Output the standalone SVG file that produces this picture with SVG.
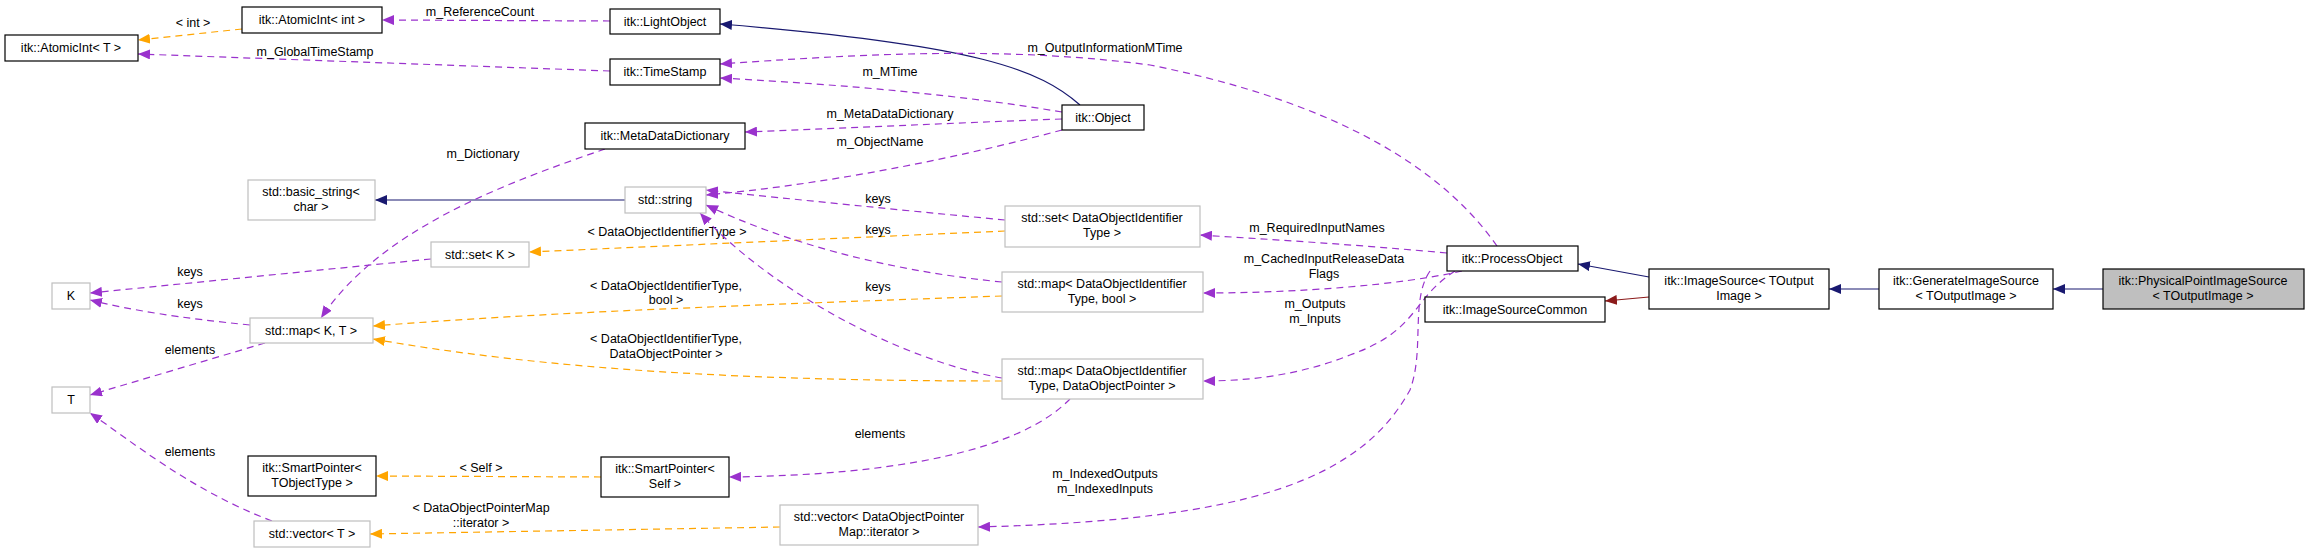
<svg xmlns="http://www.w3.org/2000/svg" width="2309" height="553" viewBox="0 0 2309 553">
<style>
text{font-family:"Liberation Sans",Arial,sans-serif;font-size:12.5px;fill:#000;text-anchor:middle}
.n rect{fill:#fff;stroke:#000;stroke-width:1.2}
.g rect{fill:#fff;stroke:#bfbfbf;stroke-width:1.2}
.p{fill:none;stroke:#9a32cd;stroke-dasharray:7,5;stroke-width:1.2;marker-end:url(#mp)}
.o{fill:none;stroke:#ffa500;stroke-dasharray:7,5;stroke-width:1.2;marker-end:url(#mo)}
.b{fill:none;stroke:#191970;stroke-width:1.2;marker-end:url(#mb)}
.r{fill:none;stroke:#8b1a1a;stroke-width:1.2;marker-end:url(#mr)}
</style>
<defs>
<marker id="mp" markerUnits="userSpaceOnUse" markerWidth="12" markerHeight="10" refX="12" refY="5" orient="auto"><path d="M0,0L12,5L0,10z" fill="#9a32cd"/></marker>
<marker id="mo" markerUnits="userSpaceOnUse" markerWidth="12" markerHeight="10" refX="12" refY="5" orient="auto"><path d="M0,0L12,5L0,10z" fill="#ffa500"/></marker>
<marker id="mb" markerUnits="userSpaceOnUse" markerWidth="12" markerHeight="10" refX="12" refY="5" orient="auto"><path d="M0,0L12,5L0,10z" fill="#191970"/></marker>
<marker id="mr" markerUnits="userSpaceOnUse" markerWidth="12" markerHeight="10" refX="12" refY="5" orient="auto"><path d="M0,0L12,5L0,10z" fill="#8b1a1a"/></marker>
</defs>
<rect width="2309" height="553" fill="#fff"/>
<g id="edges">
<path class="o" d="M242,29L138,40"/><text x="193" y="27">&lt; int &gt;</text>
<path class="p" d="M610,21L382,20"/><text x="480" y="16">m_ReferenceCount</text>
<path class="p" d="M610,71L138,54"/><text x="315" y="56">m_GlobalTimeStamp</text>
<path class="b" d="M1080,105C1040,70 980,45 720,24"/>
<path class="p" d="M1062,112C960,95 850,85 720,78"/><text x="890" y="76">m_MTime</text>
<path class="p" d="M1497,246C1430,150 1300,95 1150,65C1000,45 850,55 720,64"/><text x="1105" y="52">m_OutputInformationMTime</text>
<path class="p" d="M1062,119C950,123 850,128 745,132"/><text x="890" y="118">m_MetaDataDictionary</text>
<path class="p" d="M1062,130C950,160 820,185 706,195"/><text x="880" y="146">m_ObjectName</text>
<path class="b" d="M625,200L375,200"/>
<path class="p" d="M605,149C500,185 380,230 321,318"/><text x="483" y="158">m_Dictionary</text>
<path class="p" d="M431,259L90,293"/><text x="190" y="276">keys</text>
<path class="p" d="M250,325C180,318 130,310 90,300"/><text x="190" y="308">keys</text>
<path class="p" d="M265,343L90,395"/><text x="190" y="354">elements</text>
<path class="p" d="M272,521C190,490 130,440 90,413"/><text x="190" y="456">elements</text>
<path class="o" d="M1005,231L529,252"/><text x="667" y="236">&lt; DataObjectIdentifierType &gt;</text>
<path class="p" d="M1005,220C900,210 800,200 706,190"/><text x="878" y="203">keys</text>
<path class="p" d="M1002,282C880,270 780,240 706,205"/><text x="878" y="234">keys</text>
<path class="p" d="M1002,378C900,360 770,290 700,213"/><text x="878" y="291">keys</text>
<path class="o" d="M1002,296C750,305 550,312 373,326"/><text x="666" y="290">&lt; DataObjectIdentifierType,</text><text x="666" y="304">bool &gt;</text>
<path class="o" d="M1002,381C750,381 550,370 373,339"/><text x="666" y="343">&lt; DataObjectIdentifierType,</text><text x="666" y="358">DataObjectPointer &gt;</text>
<path class="p" d="M1447,253C1360,245 1280,240 1200,235"/><text x="1317" y="232">m_RequiredInputNames</text>
<path class="p" d="M1462,271C1400,285 1300,293 1203,293"/><text x="1324" y="263">m_CachedInputReleaseData</text><text x="1324" y="278">Flags</text>
<path class="p" d="M1455,271C1410,300 1420,330 1350,355C1300,375 1250,381 1203,381"/><text x="1315" y="308">m_Outputs</text><text x="1315" y="323">m_Inputs</text>
<path class="p" d="M1430,271C1410,300 1425,350 1410,390C1360,480 1250,520 978,527"/><text x="1105" y="478">m_IndexedOutputs</text><text x="1105" y="493">m_IndexedInputs</text>
<path class="p" d="M1070,399C1020,450 900,475 729,477"/><text x="880" y="438">elements</text>
<path class="o" d="M601,477L376,476"/><text x="481" y="472">&lt; Self &gt;</text>
<path class="o" d="M780,527L370,534"/><text x="481" y="512">&lt; DataObjectPointerMap</text><text x="481" y="527">::iterator &gt;</text>
<path class="b" d="M1649,277L1578,264"/>
<path class="r" d="M1649,297L1605,301"/>
<path class="b" d="M1879,289L1829,289"/>
<path class="b" d="M2103,289L2053,289"/>
</g>
<g id="n1" class="n"><rect x="5" y="35" width="133" height="26"/><text x="71" y="52">itk::AtomicInt&lt; T &gt;</text></g>
<g id="n2" class="n"><rect x="242" y="7" width="140" height="26"/><text x="312" y="24">itk::AtomicInt&lt; int &gt;</text></g>
<g id="n3" class="n"><rect x="610" y="9" width="110" height="25"/><text x="665" y="26">itk::LightObject</text></g>
<g id="n4" class="n"><rect x="610" y="59" width="110" height="26"/><text x="665" y="76">itk::TimeStamp</text></g>
<g id="n5" class="n"><rect x="585" y="123" width="160" height="26"/><text x="665" y="140">itk::MetaDataDictionary</text></g>
<g id="n6" class="g"><rect x="248" y="180" width="127" height="40"/><text x="311" y="196">std::basic_string&lt;</text><text x="311" y="211">char &gt;</text></g>
<g id="n7" class="g"><rect x="625" y="187" width="81" height="26"/><text x="665" y="204">std::string</text></g>
<g id="n8" class="g"><rect x="431" y="242" width="98" height="25"/><text x="480" y="259">std::set&lt; K &gt;</text></g>
<g id="n9" class="g"><rect x="52" y="283" width="38" height="26"/><text x="71" y="300">K</text></g>
<g id="n10" class="g"><rect x="250" y="318" width="123" height="25"/><text x="311" y="335">std::map&lt; K, T &gt;</text></g>
<g id="n11" class="g"><rect x="52" y="387" width="38" height="26"/><text x="71" y="404">T</text></g>
<g id="n12" class="n"><rect x="248" y="456" width="128" height="40"/><text x="312" y="472">itk::SmartPointer&lt;</text><text x="312" y="487">TObjectType &gt;</text></g>
<g id="n13" class="n"><rect x="601" y="457" width="128" height="40"/><text x="665" y="473">itk::SmartPointer&lt;</text><text x="665" y="488">Self &gt;</text></g>
<g id="n14" class="g"><rect x="254" y="521" width="116" height="26"/><text x="312" y="538">std::vector&lt; T &gt;</text></g>
<g id="n15" class="n"><rect x="1062" y="105" width="82" height="25"/><text x="1103" y="122">itk::Object</text></g>
<g id="n16" class="n"><rect x="1447" y="246" width="131" height="25"/><text x="1512" y="263">itk::ProcessObject</text></g>
<g id="n17" class="g"><rect x="1005" y="206" width="195" height="41"/><text x="1102" y="222">std::set&lt; DataObjectIdentifier</text><text x="1102" y="237">Type &gt;</text></g>
<g id="n18" class="g"><rect x="1002" y="272" width="201" height="40"/><text x="1102" y="288">std::map&lt; DataObjectIdentifier</text><text x="1102" y="303">Type, bool &gt;</text></g>
<g id="n19" class="g"><rect x="1002" y="359" width="201" height="40"/><text x="1102" y="375">std::map&lt; DataObjectIdentifier</text><text x="1102" y="390">Type, DataObjectPointer &gt;</text></g>
<g id="n20" class="g"><rect x="780" y="505" width="198" height="40"/><text x="879" y="521">std::vector&lt; DataObjectPointer</text><text x="879" y="536">Map::iterator &gt;</text></g>
<g id="n21" class="n"><rect x="1425" y="297" width="180" height="25"/><text x="1515" y="314">itk::ImageSourceCommon</text></g>
<g id="n22" class="n"><rect x="1649" y="269" width="180" height="40"/><text x="1739" y="285">itk::ImageSource&lt; TOutput</text><text x="1739" y="300">Image &gt;</text></g>
<g id="n23" class="n"><rect x="1879" y="269" width="174" height="40"/><text x="1966" y="285">itk::GenerateImageSource</text><text x="1966" y="300">&lt; TOutputImage &gt;</text></g>
<g id="n24" class="n"><rect x="2103" y="269" width="201" height="40" style="fill:#bfbfbf"/><text x="2203" y="285">itk::PhysicalPointImageSource</text><text x="2203" y="300">&lt; TOutputImage &gt;</text></g>
</svg>
